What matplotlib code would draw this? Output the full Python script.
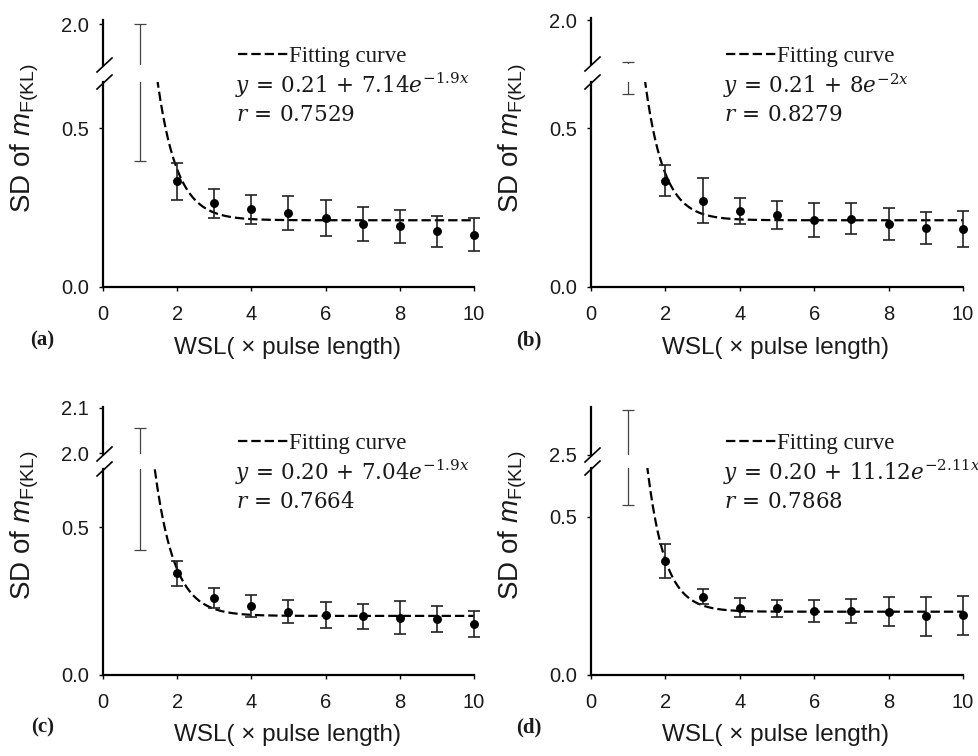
import numpy as np
import matplotlib
matplotlib.use("Agg")
import matplotlib.pyplot as plt
from matplotlib.lines import Line2D

plt.rcParams['font.family'] = ['Liberation Sans', 'DejaVu Sans']
plt.rcParams['mathtext.fontset'] = 'custom'
plt.rcParams['mathtext.rm'] = 'Liberation Sans'
plt.rcParams['mathtext.it'] = 'Liberation Sans:italic'
plt.rcParams['mathtext.sf'] = 'Liberation Sans'

# ---------------- data ----------------
wsl = [1, 2, 3, 4, 5, 6, 7, 8, 9, 10]

sd_a = [1.199, 0.332, 0.264, 0.245, 0.233, 0.217, 0.199, 0.191, 0.175, 0.165]
err_a = [0.801, 0.0585, 0.0455, 0.046, 0.0525, 0.056, 0.054, 0.0525, 0.049, 0.0515]

sd_b = [1.2545, 0.335, 0.271, 0.238, 0.227, 0.212, 0.215, 0.198, 0.186, 0.182]
err_b = [0.6475, 0.048, 0.071, 0.041, 0.045, 0.0535, 0.0485, 0.050, 0.0515, 0.0575]

sd_c = [1.239, 0.344, 0.260, 0.234, 0.214, 0.203, 0.198, 0.194, 0.188, 0.173]
err_c = [0.816, 0.0415, 0.034, 0.038, 0.0385, 0.044, 0.042, 0.0565, 0.044, 0.045]

sd_d = [1.7535, 0.361, 0.247, 0.213, 0.211, 0.203, 0.202, 0.200, 0.186, 0.189]
err_d = [1.2165, 0.053, 0.0235, 0.030, 0.0265, 0.034, 0.038, 0.0455, 0.062, 0.0615]

# fitted curves y = a + b*exp(-c*x)
fit_a = [0.21, 7.14, 1.9]
fit_b = [0.21, 8.0, 2.0]
fit_c = [0.20, 7.04, 1.9]
fit_d = [0.20, 11.12, 2.11]

eq_a = r"$y\,=\,0.21\,+\,7.14e^{-1.9x}$"
eq_b = r"$y\,=\,0.21\,+\,8e^{-2x}$"
eq_c = r"$y\,=\,0.20\,+\,7.04e^{-1.9x}$"
eq_d = r"$y\,=\,0.20\,+\,11.12e^{-2.11x}$"
r_a, r_b, r_c, r_d = "0.7529", "0.8279", "0.7664", "0.7868"

panel_labels = ["(a)", "(b)", "(c)", "(d)"]
x_ticks = [0, 2, 4, 6, 8, 10]
low_ticks = [0.0, 0.5]
up_ticks_a = [2.0]
up_ticks_b = [2.0]
up_ticks_c = [2.0, 2.1]
up_ticks_d = [2.5]

# ---------------- layout (pixels) ----------------
W, H = 979, 756
fig = plt.figure(figsize=(W / 100, H / 100), dpi=100)
fig.patch.set_facecolor('white')


def add_ax(left, top, right, bottom):
    return fig.add_axes([left / W, 1 - bottom / H, (right - left) / W, (bottom - top) / H])


def fx(px):
    return px / W


def fy(py):
    return 1 - py / H


panels = [
    dict(sd=sd_a, err=err_a, fit=fit_a, eq=eq_a, r=r_a, lab=panel_labels[0], upt=up_ticks_a,
         left=103, right=474, ltop=82, lbot=287, utop=20, ubot=65,
         lylim=(0, 0.645), uylim=(1.9047, 2.0093), ox=0, oy=0),
    dict(sd=sd_b, err=err_b, fit=fit_b, eq=eq_b, r=r_b, lab=panel_labels[1], upt=up_ticks_b,
         left=591, right=963, ltop=82, lbot=287, utop=18, ubot=64,
         lylim=(0, 0.645), uylim=(1.8977, 2.0047), ox=488, oy=0),
    dict(sd=sd_c, err=err_c, fit=fit_c, eq=eq_c, r=r_c, lab=panel_labels[2], upt=up_ticks_c,
         left=103, right=474, ltop=469, lbot=675, utop=407, ubot=454,
         lylim=(0, 0.697), uylim=(1.9978, 2.1022), ox=0, oy=387),
    dict(sd=sd_d, err=err_d, fit=fit_d, eq=eq_d, r=r_d, lab=panel_labels[3], upt=up_ticks_d,
         left=591, right=963, ltop=468, lbot=675, utop=407, ubot=455,
         lylim=(0, 0.654), uylim=(2.499, 3.0), ox=488, oy=387),
]

txt_col = '#1a1a1a'
dash = (0, (4.2, 1.8))

for p in panels:
    ax = add_ax(p['left'], p['ltop'], p['right'], p['lbot'])
    axu = add_ax(p['left'], p['utop'], p['right'], p['ubot'])
    for a in (ax, axu):
        a.set_xlim(0, 10)
        a.patch.set_alpha(0)
        a.spines['top'].set_visible(False)
        a.spines['right'].set_visible(False)
        a.spines['left'].set_linewidth(1.6)
        a.spines['bottom'].set_linewidth(1.6)
        a.tick_params(direction='out', length=3, width=1, labelsize=14.5,
                      colors='black', labelcolor=txt_col)
        a.tick_params(axis='y', pad=7)
        a.tick_params(axis='x', pad=10)
    ax.set_ylim(*p['lylim'])
    axu.set_ylim(*p['uylim'])
    ax.set_xticks(x_ticks)
    ax.set_yticks(low_ticks)
    ax.set_yticklabels([f"{v:.1f}" for v in low_ticks])
    axu.set_yticks(p['upt'])
    axu.set_yticklabels([f"{v:.1f}" for v in p['upt']])
    axu.spines['bottom'].set_visible(False)
    axu.set_xticks([])

    x = np.array(wsl)
    y = np.array(p['sd'])
    e = np.array(p['err'])
    # first point (broken across the axis gap)
    for a in (ax, axu):
        a.errorbar(x[:1], y[:1], yerr=e[:1], fmt='none', ecolor='#444444',
                   elinewidth=0.9, capsize=4.5, capthick=0.9)
    # remaining points
    eb = ax.errorbar(x[1:], y[1:], yerr=e[1:], fmt='o', ms=5.4, color='black',
                     ecolor='#222222', elinewidth=1.2, capsize=4, capthick=1.2, zorder=3)
    for art in eb.lines[1] + eb.lines[2] + (eb.lines[0],):
        art.set_clip_on(False)

    # fitting curve
    a0, b0, c0 = p['fit']
    xs = np.linspace(1.2, 10, 400)
    ax.plot(xs, a0 + b0 * np.exp(-c0 * xs), color='black', lw=1.6, ls=dash, zorder=2)

    ox, oy = p['ox'], p['oy']
    # axis break marks
    L = p['left']
    for yb in (p['ubot'], p['ltop']):
        fig.add_artist(Line2D([fx(L - 6), fx(L + 9)], [fy(yb + 7), fy(yb - 7)],
                              color='black', lw=1.2))

    # legend-like text
    fig.add_artist(Line2D([fx(238 + ox), fx(288 + ox)], [fy(54 + oy), fy(54 + oy)],
                          color='black', lw=1.6, ls=dash))
    fig.text(fx(289 + ox), fy(62 + oy), "Fitting curve", fontsize=16.5,
             family=['Liberation Serif'], color=txt_col, va='baseline', ha='left')
    fig.text(fx(235 + ox), fy(93 + oy), p['eq'], fontsize=15.5, math_fontfamily='dejavuserif',
             color=txt_col, va='baseline', ha='left')
    fig.text(fx(236 + ox), fy(121 + oy), r"$r\,=\," + p['r'] + "$", fontsize=15.5,
             math_fontfamily='dejavuserif', color=txt_col, va='baseline', ha='left')

    # axis labels
    fig.text(fx(25 + ox), fy(138 + oy), r"SD of $\mathit{m}_{\mathsf{F(KL)}}$", fontsize=20,
             rotation=90, ha='center', va='center', color=txt_col)
    fig.text(fx(p['left'] + 185), fy(348 + oy), "WSL( \u00d7 pulse length)", fontsize=17.5,
             ha='center', va='center', color=txt_col)
    fig.text(fx(54 + ox), fy(340 + oy), p['lab'], fontsize=15, fontweight='bold',
             family=['Liberation Serif'], ha='right', va='center', color=txt_col)

fig.savefig("out.png", dpi=100, facecolor='white')
